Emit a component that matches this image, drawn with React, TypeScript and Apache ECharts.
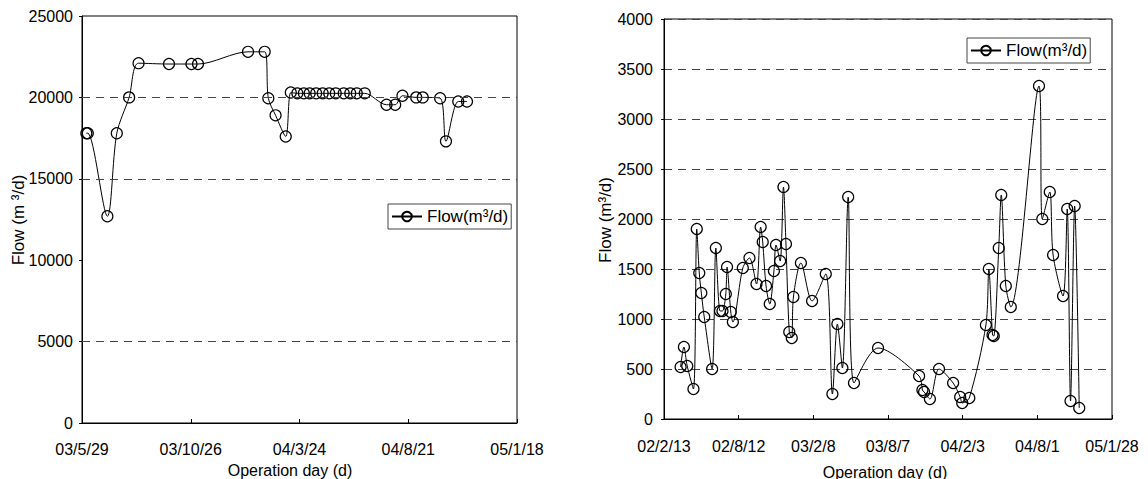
import React, { useEffect, useRef } from "react";
import * as echarts from "echarts";

// Left chart: days since 2003-05-29, flow (m3/d)
const leftStart = Date.UTC(2003, 4, 29);
const leftDays = [6, 8, 35, 48, 65, 78, 120, 151, 160, 229, 252, 257, 267, 281, 288, 297, 306, 314, 323, 332, 341, 350, 361, 370, 379, 390, 420, 432, 442, 461, 470, 494, 502, 519, 531];
const leftFlow = [17800, 17800, 12700, 17800, 20000, 22100, 22050, 22050, 22050, 22800, 22800, 19950, 18900, 17600, 20300, 20250, 20250, 20250, 20250, 20250, 20250, 20250, 20250, 20250, 20250, 20250, 19550, 19550, 20100, 20000, 20000, 19950, 17300, 19750, 19750];
const leftGridValues = [5000, 15000, 20000];

// Right chart: days since 2002-02-13, flow (m3/d)
const rightStart = Date.UTC(2002, 1, 13);
const rightDays = [40, 48, 56, 71, 79, 85, 90, 97, 116, 125, 135, 141, 149, 152, 161, 166, 190, 206, 223, 233, 238, 246, 255, 265, 270, 280, 288, 294, 302, 308, 312, 330, 357, 390, 406, 418, 430, 444, 458, 516, 615, 623, 627, 641, 663, 697, 714, 719, 736, 776, 783, 792, 795, 807, 813, 824, 836, 904, 912, 930, 938, 962, 972, 980, 990, 1001];
const rightFlow = [520, 720, 530, 300, 1900, 1460, 1260, 1020, 500, 1710, 1080, 1080, 1250, 1520, 1070, 970, 1510, 1610, 1350, 1920, 1770, 1330, 1150, 1480, 1740, 1580, 2320, 1750, 870, 810, 1220, 1560, 1180, 1450, 250, 950, 510, 2220, 360, 710, 430, 290, 270, 200, 500, 360, 220, 160, 210, 940, 1500, 840, 830, 1710, 2240, 1330, 1120, 3330, 2000, 2270, 1640, 1230, 2100, 180, 2130, 110];

const seriesName = "Flow(m³/d)";
const xTitle = "Operation day (d)";
const leftYTitle = "Flow (m ³/d)";
const rightYTitle = "Flow (m³/d)";

const FONT = "Liberation Sans, Arial, sans-serif";

function dateFmt(start: number) {
  return (v: number) => {
    const d = new Date(start + v * 86400000);
    const yy = String(d.getUTCFullYear() % 100).padStart(2, "0");
    return `${yy}/${d.getUTCMonth() + 1}/${d.getUTCDate()}`;
  };
}

export default function App() {
  const ref = useRef<HTMLDivElement>(null);
  useEffect(() => {
    if (!ref.current) return;
    const chart = echarts.init(ref.current, undefined, { renderer: "svg" });
    const dash = { color: "#444", width: 1, type: [8, 6] as any };
    const xAxisBase = {
      type: "value" as const,
      axisLine: { show: true, onZero: false, lineStyle: { color: "#000", width: 1 } },
      axisTick: { show: true, inside: true, length: 4, lineStyle: { color: "#000" } },
      splitLine: { show: false },
    };
    const yAxisBase = {
      type: "value" as const,
      axisLine: { show: true, onZero: false, lineStyle: { color: "#000", width: 1 } },
      axisTick: { show: true, inside: false, length: 3, lineStyle: { color: "#000" } },
    };
    const lineSeries = {
      type: "line" as const,
      name: seriesName,
      smooth: 0.3,
      symbol: "circle",
      symbolSize: 11,
      lineStyle: { color: "#000", width: 1 },
      itemStyle: { color: "rgba(0,0,0,0)", borderColor: "#000", borderWidth: 1.2 },
      emphasis: { disabled: true },
    };
    const legendBase = {
      orient: "horizontal" as const,
      itemWidth: 30,
      itemHeight: 12,
      borderColor: "#444",
      borderWidth: 1,
      padding: [4, 3, 4, 3],
      textStyle: { fontSize: 17, color: "#000", fontFamily: FONT },
      selectedMode: false,
    };
    const plain = (v: number) => String(v);
    chart.setOption({
      animation: false,
      backgroundColor: "#fff",
      grid: [
        { left: 82, top: 16, width: 435, height: 407, show: true, borderColor: "#000", borderWidth: 1, backgroundColor: "transparent" },
        { left: 664, top: 19, width: 448, height: 400, show: true, borderColor: "#000", borderWidth: 1, backgroundColor: "transparent" },
      ],
      xAxis: [
        {
          ...xAxisBase,
          gridIndex: 0,
          min: 0,
          max: 600,
          interval: 150,
          axisLabel: { formatter: dateFmt(leftStart), margin: 18, fontSize: 16, color: "#000", fontFamily: FONT, showMinLabel: true, showMaxLabel: true },
        },
        {
          ...xAxisBase,
          gridIndex: 1,
          min: 0,
          max: 1080,
          interval: 180,
          axisLabel: { formatter: dateFmt(rightStart), margin: 19, fontSize: 16, color: "#000", fontFamily: FONT, showMinLabel: true, showMaxLabel: true },
        },
      ],
      yAxis: [
        {
          ...yAxisBase,
          gridIndex: 0,
          min: 0,
          max: 25000,
          interval: 5000,
          splitLine: { show: false },
          axisLabel: { formatter: plain, margin: 9, fontSize: 16, color: "#000", fontFamily: FONT },
        },
        {
          ...yAxisBase,
          gridIndex: 1,
          min: 0,
          max: 4000,
          interval: 500,
          splitLine: { show: true, lineStyle: dash },
          axisLabel: { formatter: plain, margin: 11, fontSize: 16, color: "#000", fontFamily: FONT },
        },
      ],
      legend: [
        { ...legendBase, left: 388, top: 204, data: [seriesName] },
        { ...legendBase, left: 967, top: 38, data: [seriesName] },
      ],
      series: [
        {
          ...lineSeries,
          xAxisIndex: 0,
          yAxisIndex: 0,
          data: leftDays.map((d, i) => [d, leftFlow[i]]),
          markLine: {
            silent: true,
            symbol: "none",
            label: { show: false },
            lineStyle: dash,
            emphasis: { disabled: true },
            data: leftGridValues.map((v) => ({ yAxis: v })),
          },
        },
        {
          ...lineSeries,
          xAxisIndex: 1,
          yAxisIndex: 1,
          data: rightDays.map((d, i) => [d, rightFlow[i]]),
        },
      ],
      graphic: [
        { type: "text", x: 290, y: 470, style: { text: xTitle, fill: "#000", font: `16px ${FONT}`, align: "center", verticalAlign: "middle" } },
        { type: "text", x: 885, y: 472, style: { text: xTitle, fill: "#000", font: `16px ${FONT}`, align: "center", verticalAlign: "middle" } },
        { type: "text", x: 18, y: 220, rotation: Math.PI / 2, style: { text: leftYTitle, fill: "#000", font: `17px ${FONT}`, align: "center", verticalAlign: "middle" } },
        { type: "text", x: 605, y: 220, rotation: Math.PI / 2, style: { text: rightYTitle, fill: "#000", font: `17px ${FONT}`, align: "center", verticalAlign: "middle" } },
      ],
    });
    return () => chart.dispose();
  }, []);
  return (
    <div
      ref={ref}
      style={{ position: "fixed", left: 0, top: 0, width: 1148, height: 479, background: "#fff" }}
    />
  );
}
